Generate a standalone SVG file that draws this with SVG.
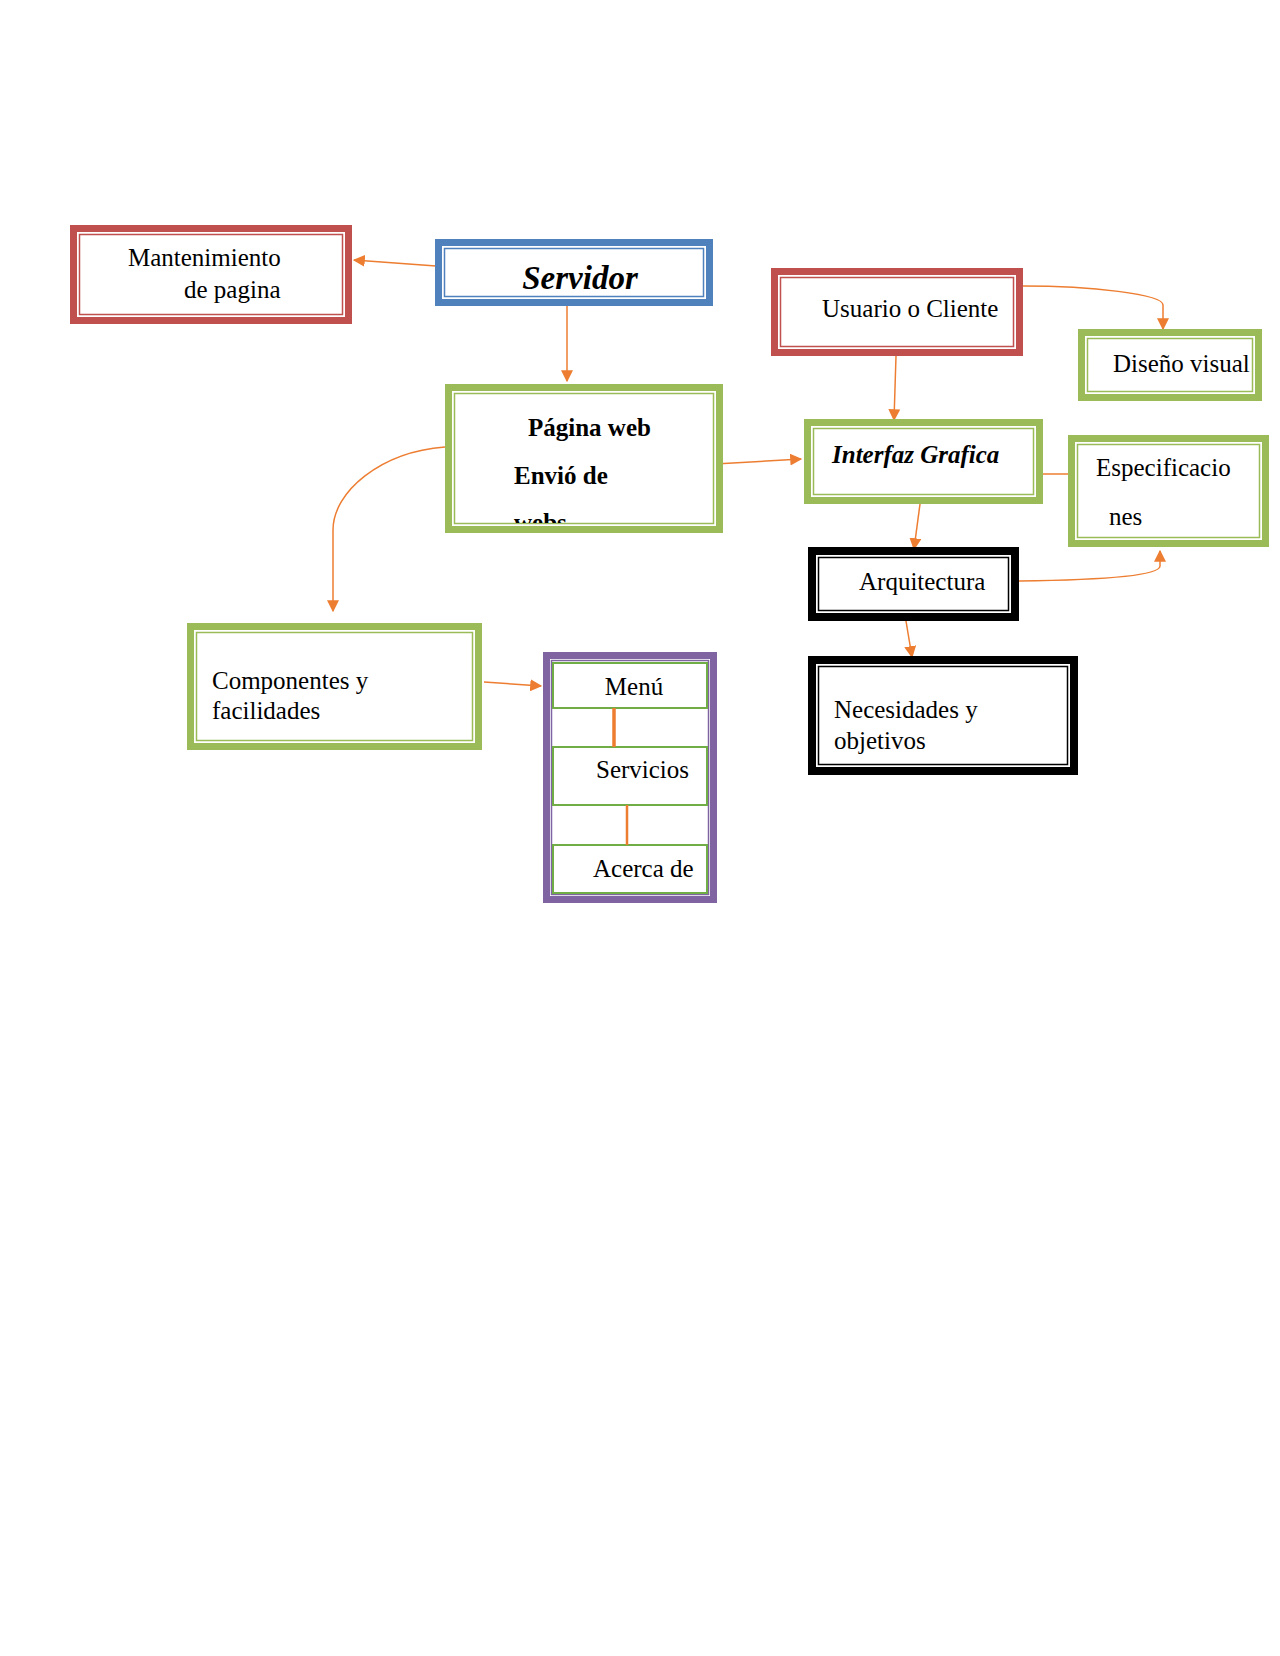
<svg xmlns="http://www.w3.org/2000/svg" width="1280" height="1656" viewBox="0 0 1280 1656">
<style>
.t{font-family:"Liberation Serif","Times New Roman",serif;font-size:25px;fill:#000}
.b{font-weight:bold}
.i{font-style:italic}
.o{fill:none;stroke-width:7}
.in{fill:none;stroke-width:1.5}
.red{stroke:#C0504D}
.blue{stroke:#4F81BD}
.green{stroke:#9BBB59}
.purple{stroke:#8064A2}
.black{stroke:#000}
.c{fill:none;stroke:#ED7D31;stroke-width:1.5}
.cell{fill:#fff;stroke:#70AD47;stroke-width:2}
</style>
<defs>
<marker id="ar" viewBox="0 0 10 10" refX="9" refY="5" markerWidth="12" markerHeight="12" markerUnits="userSpaceOnUse" orient="auto">
<path d="M0,0 L10,5 L0,10 z" fill="#ED7D31"/>
</marker>
<clipPath id="pclip"><rect x="455" y="394" width="258" height="129"/></clipPath>
</defs>
<rect width="1280" height="1656" fill="#fff"/>

<g id="connectors">
<path class="c" d="M436,266 L354,260" marker-end="url(#ar)"/>
<path class="c" d="M567,306 L567,381" marker-end="url(#ar)"/>
<path class="c" d="M445,447 C380,452 333,492 333,530 L333,611" marker-end="url(#ar)"/>
<path class="c" d="M715,464 L801,459" marker-end="url(#ar)"/>
<path class="c" d="M896,356 L894,420" marker-end="url(#ar)"/>
<path class="c" d="M1023,286 C1090,286 1163,294 1163,305 L1163,329" marker-end="url(#ar)"/>
<path class="c" d="M920,504 L914,549" marker-end="url(#ar)"/>
<path class="c" d="M1043,474 L1068,474"/>
<path class="c" d="M1019,581 C1100,580 1160,576 1160,566 L1160,551" marker-end="url(#ar)"/>
<path class="c" d="M906,621 L912,657" marker-end="url(#ar)"/>
<path class="c" d="M484,682 L541,686" marker-end="url(#ar)"/>
</g>

<g id="mantenimiento">
<rect x="70" y="225" width="282" height="99" fill="#fff"/>
<rect class="o red" x="73.5" y="228.5" width="275" height="92"/>
<rect class="in red" x="79.5" y="234.5" width="263" height="80"/>
<text class="t" x="128" y="266">Mantenimiento</text>
<text class="t" x="184" y="298">de pagina</text>
</g>

<g id="servidor">
<rect x="435" y="239" width="278" height="67" fill="#fff"/>
<rect class="o blue" x="438.5" y="242.5" width="271" height="60"/>
<rect class="in blue" x="444.5" y="248.5" width="259" height="48"/>
<text class="t b i" x="580" y="289" text-anchor="middle" style="font-size:33px">Servidor</text>
</g>

<g id="usuario">
<rect x="771" y="268" width="252" height="88" fill="#fff"/>
<rect class="o red" x="774.5" y="271.5" width="245" height="81"/>
<rect class="in red" x="780.5" y="277.5" width="233" height="69"/>
<text class="t" x="822" y="317">Usuario o Cliente</text>
</g>

<g id="diseno">
<rect x="1078" y="329" width="184" height="72" fill="#fff"/>
<rect class="o green" x="1081.5" y="332.5" width="177" height="65"/>
<rect class="in green" x="1087.5" y="338.5" width="165" height="53"/>
<text class="t" x="1113" y="372">Diseño visual</text>
</g>

<g id="pagina">
<rect x="445" y="384" width="278" height="149" fill="#fff"/>
<rect class="o green" x="448.5" y="387.5" width="271" height="142"/>
<rect class="in green" x="454.5" y="393.5" width="259" height="130"/>
<text class="t b" x="528" y="436">Página web</text>
<text class="t b" x="514" y="484">Envió de</text>
<text class="t b" x="514" y="531" clip-path="url(#pclip)">webs</text>
</g>

<g id="interfaz">
<rect x="804" y="419" width="239" height="85" fill="#fff"/>
<rect class="o green" x="807.5" y="422.5" width="232" height="78"/>
<rect class="in green" x="813.5" y="428.5" width="220" height="66"/>
<text class="t b i" x="832" y="463">Interfaz Grafica</text>
</g>

<g id="especificaciones">
<rect x="1068" y="435" width="201" height="112" fill="#fff"/>
<rect class="o green" x="1071.5" y="438.5" width="194" height="105"/>
<rect class="in green" x="1077.5" y="444.5" width="182" height="93"/>
<text class="t" x="1096" y="476">Especificacio</text>
<text class="t" x="1109" y="525">nes</text>
</g>

<g id="arquitectura">
<rect x="808" y="547" width="211" height="74" fill="#fff"/>
<rect class="black" fill="none" stroke-width="8" x="812" y="551" width="203" height="66"/>
<rect class="in black" x="818.5" y="557.5" width="190" height="53"/>
<text class="t" x="859" y="590">Arquitectura</text>
</g>

<g id="necesidades">
<rect x="808" y="656" width="270" height="119" fill="#fff"/>
<rect class="black" fill="none" stroke-width="8" x="812" y="660" width="262" height="111"/>
<rect class="in black" x="818.5" y="666.5" width="249" height="98"/>
<text class="t" x="834" y="718">Necesidades y</text>
<text class="t" x="834" y="749">objetivos</text>
</g>

<g id="componentes">
<rect x="187" y="623" width="295" height="127" fill="#fff"/>
<rect class="o green" x="190.5" y="626.5" width="288" height="120"/>
<rect class="in green" x="196.5" y="632.5" width="276" height="108"/>
<text class="t" x="212" y="689">Componentes y</text>
<text class="t" x="212" y="719">facilidades</text>
</g>

<g id="menu">
<rect x="543" y="652" width="174" height="251" fill="#fff"/>
<rect class="o purple" x="546.5" y="655.5" width="167" height="244"/>
<rect class="in purple" x="551.5" y="660.5" width="157" height="234"/>
<rect class="cell" x="553" y="663" width="154" height="45"/>
<rect class="cell" x="553" y="747" width="154" height="58"/>
<rect class="cell" x="553" y="845" width="154" height="48"/>
<line x1="614" y1="708" x2="614" y2="747" stroke="#ED7D31" stroke-width="3.5"/>
<line x1="627" y1="805" x2="627" y2="845" stroke="#ED7D31" stroke-width="2.5"/>
<text class="t" x="634" y="695" text-anchor="middle">Menú</text>
<text class="t" x="596" y="778">Servicios</text>
<text class="t" x="593" y="877">Acerca de</text>
</g>
</svg>
